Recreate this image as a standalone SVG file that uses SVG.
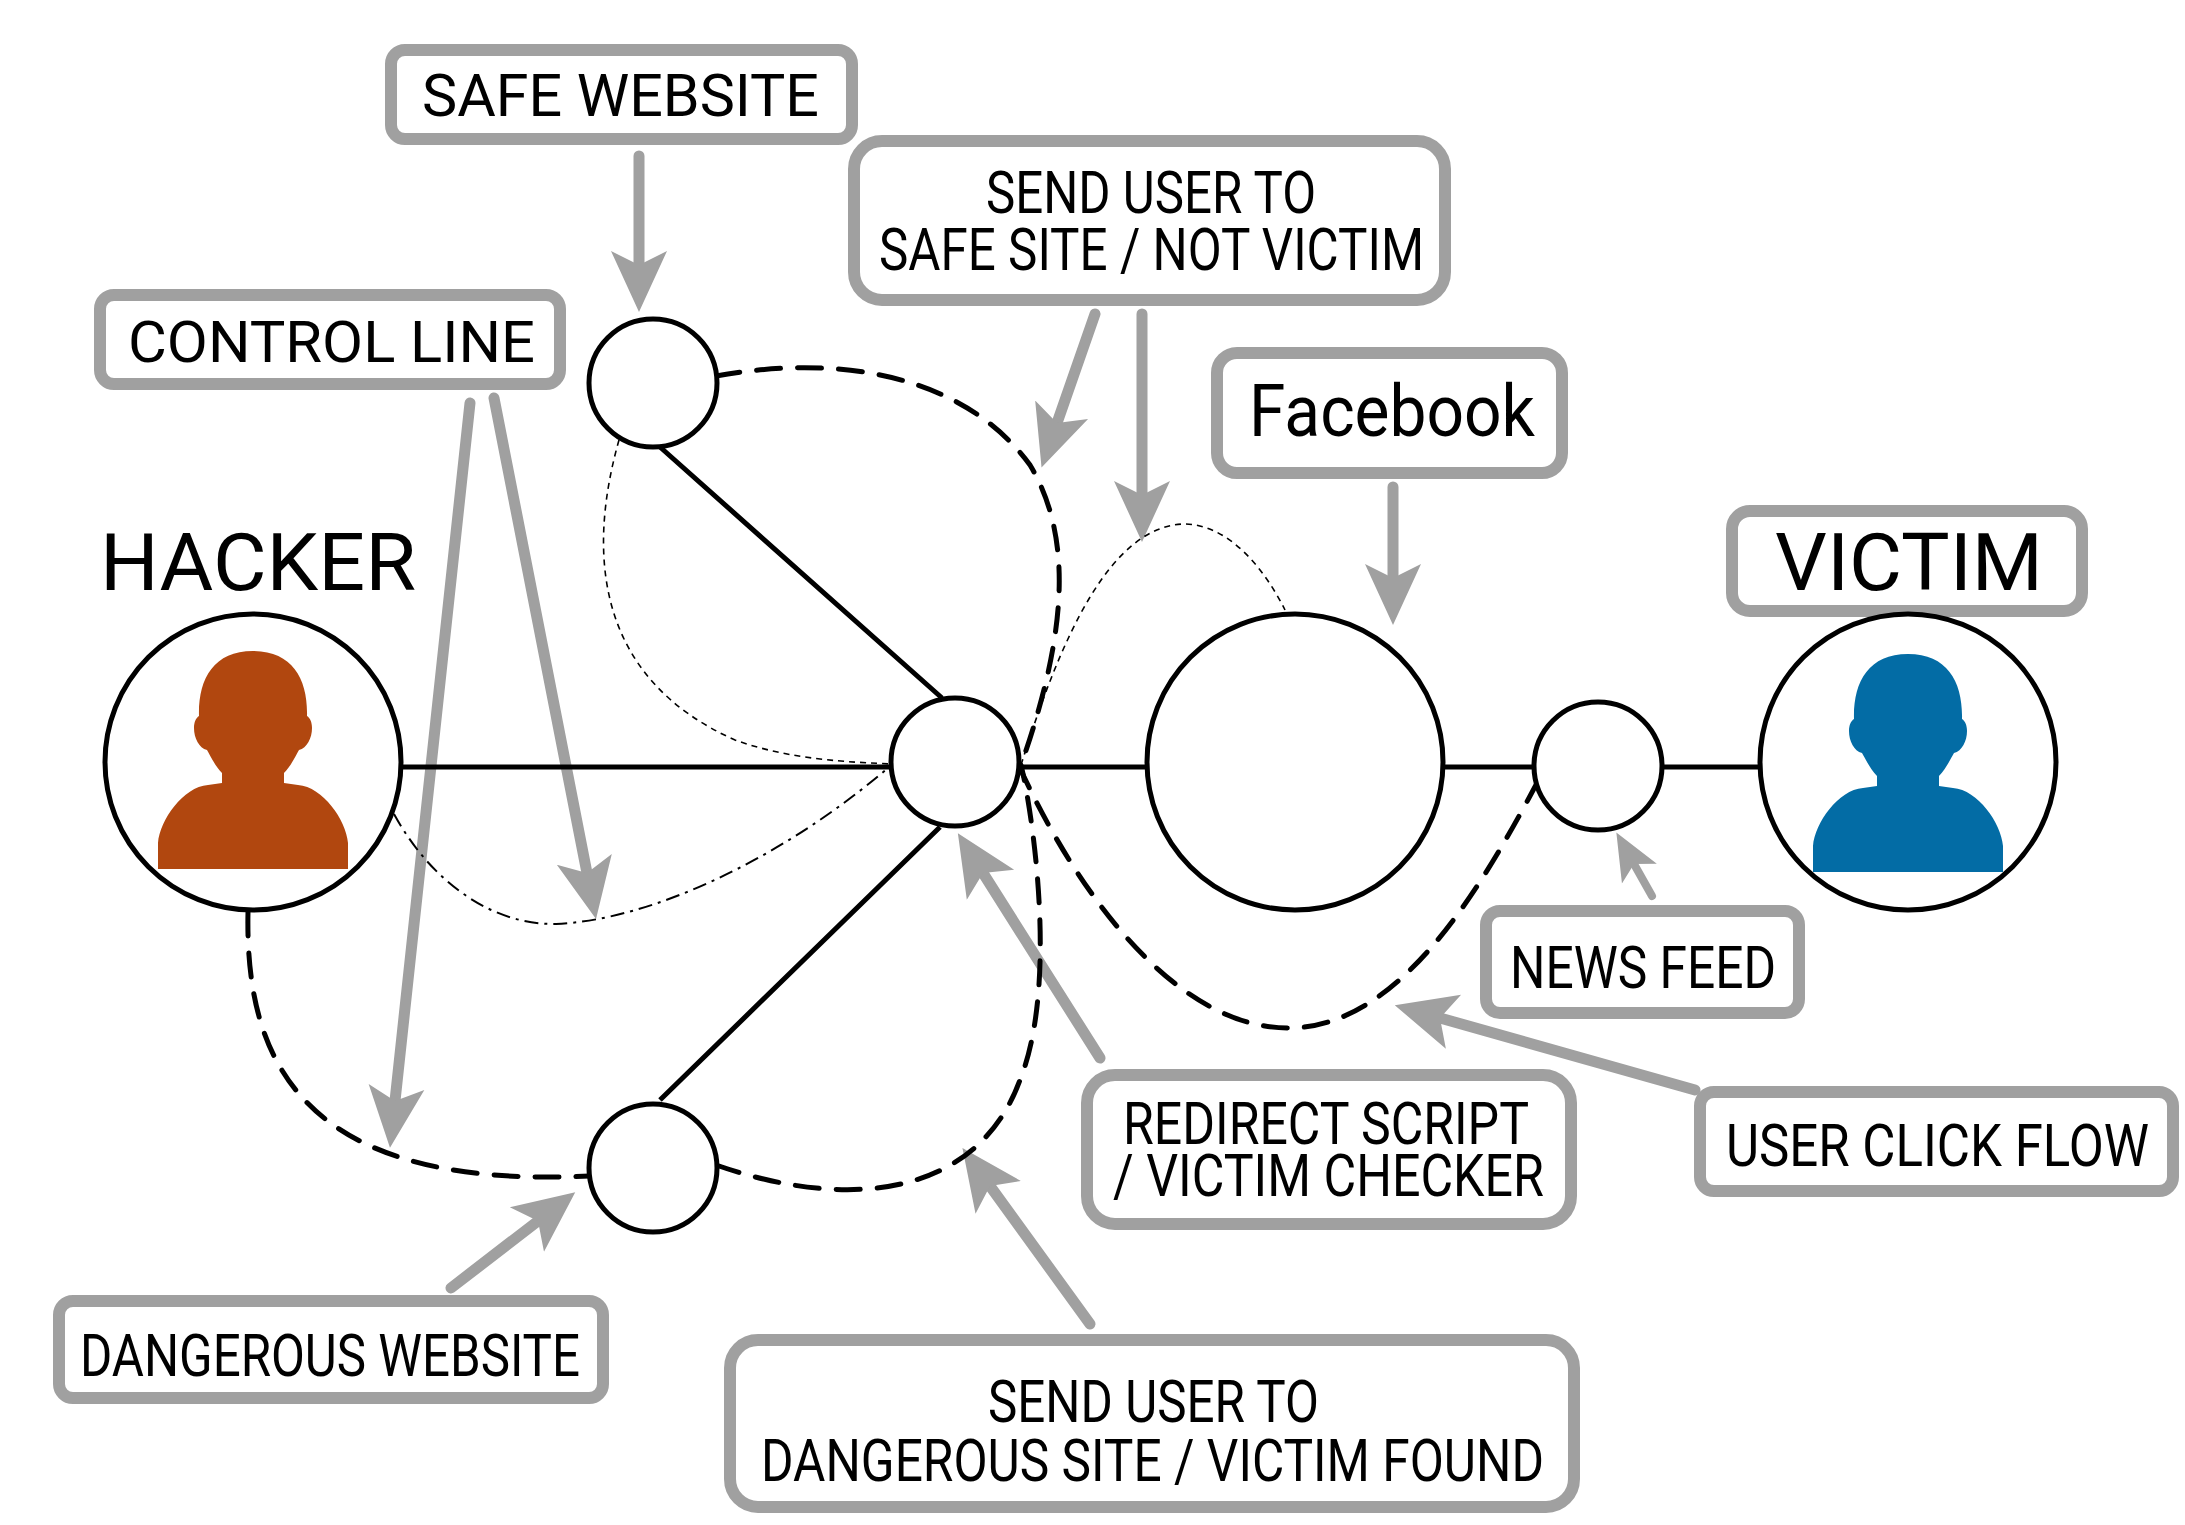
<svg xmlns="http://www.w3.org/2000/svg" width="2185" height="1525" viewBox="0 0 2185 1525">
<style>
.bg{fill:#fff}
.box{fill:#fff;stroke:#a0a0a0;stroke-width:12}
.t{font-family:Roboto,"Liberation Sans",sans-serif;fill:#000;font-size:60px}
.arrow{fill:none;stroke:#a0a0a0;stroke-width:11;stroke-linecap:round;marker-end:url(#head)}
.arrow.small{stroke-width:8;marker-end:url(#headS)}
.solid{fill:none;stroke:#000;stroke-width:5}
.dash{fill:none;stroke:#000;stroke-width:5;stroke-dasharray:24 17;stroke-linecap:round}
.dot{fill:none;stroke:#000;stroke-width:1.6;stroke-dasharray:6 5}
.dashdot{fill:none;stroke:#000;stroke-width:2;stroke-dasharray:14 6 3 6}
.node{fill:#fff;stroke:#000;stroke-width:5}
</style>
<defs>
<marker id="head" markerUnits="userSpaceOnUse" markerWidth="70" markerHeight="64" refX="14" refY="32" orient="auto"><path d="M0 4L61 32L0 60L14 32Z" fill="#a0a0a0"/></marker>
<marker id="headS" markerUnits="userSpaceOnUse" markerWidth="52" markerHeight="48" refX="11" refY="24" orient="auto"><path d="M0 4L47 24L0 44L11 24Z" fill="#a0a0a0"/></marker>
<path id="person" d="M-95 869V843C-93 820-70 787-45 785L-31 783V773C-38 766-43 755-46 750C-54 748-59 738-59 728C-59 722-57 718-54 716C-55 680-40 651 0 651C40 651 55 680 54 716C57 718 59 722 59 728C59 738 54 748 46 750C43 755 38 766 31 773V783L45 785C70 787 93 820 95 843V869Z"/>
</defs>
<rect class="bg" width="2185" height="1525"/>
<g id="label-safe-website"><rect class="box" x="391" y="50" width="461" height="89" rx="14"/><text class="t" x="422" y="116" textLength="397" lengthAdjust="spacingAndGlyphs">SAFE WEBSITE</text></g>
<g id="label-send-safe"><rect class="box" x="854" y="141" width="591" height="159" rx="28"/><text class="t" x="986" y="213" textLength="330" lengthAdjust="spacingAndGlyphs">SEND USER TO</text><text class="t" x="879" y="270" textLength="545" lengthAdjust="spacingAndGlyphs">SAFE SITE / NOT VICTIM</text></g>
<g id="label-control-line"><rect class="box" x="100" y="295" width="460" height="89" rx="14"/><text class="t" x="128" y="362" textLength="407" lengthAdjust="spacingAndGlyphs" style="font-size:58px">CONTROL LINE</text></g>
<g id="label-facebook"><rect class="box" x="1217" y="353" width="345" height="120" rx="20"/><text class="t" x="1249" y="436" textLength="286" lengthAdjust="spacingAndGlyphs" style="font-size:72px">Facebook</text></g>
<g id="label-victim"><rect class="box" x="1732" y="511" width="350" height="100" rx="18"/><text class="t" x="1775" y="590" textLength="268" lengthAdjust="spacingAndGlyphs" style="font-size:79px">VICTIM</text></g>
<g id="label-hacker"><text class="t" x="100" y="590" textLength="316" lengthAdjust="spacingAndGlyphs" style="font-size:79px">HACKER</text></g>
<g id="label-news-feed"><rect class="box" x="1486" y="911" width="313" height="102" rx="14"/><text class="t" x="1510" y="988" textLength="266" lengthAdjust="spacingAndGlyphs">NEWS FEED</text></g>
<g id="label-user-click-flow"><rect class="box" x="1700" y="1092" width="473" height="99" rx="14"/><text class="t" x="1726" y="1166" textLength="423" lengthAdjust="spacingAndGlyphs">USER CLICK FLOW</text></g>
<g id="label-redirect"><rect class="box" x="1087" y="1075" width="484" height="149" rx="28"/><text class="t" x="1123" y="1144" textLength="406" lengthAdjust="spacingAndGlyphs">REDIRECT SCRIPT</text><text class="t" x="1113" y="1196" textLength="431" lengthAdjust="spacingAndGlyphs">/ VICTIM CHECKER</text></g>
<g id="label-dangerous-website"><rect class="box" x="59" y="1301" width="544" height="97" rx="14"/><text class="t" x="80" y="1376" textLength="500" lengthAdjust="spacingAndGlyphs">DANGEROUS WEBSITE</text></g>
<g id="label-send-dangerous"><rect class="box" x="730" y="1340" width="844" height="167" rx="28"/><text class="t" x="988" y="1422" textLength="331" lengthAdjust="spacingAndGlyphs">SEND USER TO</text><text class="t" x="761" y="1481" textLength="783" lengthAdjust="spacingAndGlyphs">DANGEROUS SITE / VICTIM FOUND</text></g>
<g id="connectors">
<path class="arrow" d="M639 156V265"/>
<path class="arrow" d="M470 403L395 1101"/>
<path class="arrow" d="M494 398L587 873"/>
<path class="arrow" d="M1095 314L1057 423"/>
<path class="arrow" d="M1142 314V495"/>
<path class="arrow" d="M1393 487V578"/>
<path class="arrow small" d="M1652 896L1634 864"/>
<path class="arrow" d="M1695 1090L1440 1018"/>
<path class="arrow" d="M1100 1058L983 873"/>
<path class="arrow" d="M1090 1324L990 1186"/>
<path class="arrow" d="M451 1288L538 1221"/>
<path class="solid" d="M401 767H891M1019 767H1147M1443 767H1534M1662 767H1760"/>
<path class="solid" d="M660 447L942 698M940 827L660 1100"/>
<path class="dash" d="M248 912C245 1060 300 1190 590 1176"/>
<path class="dash" d="M716 1165C860 1215 980 1190 1020 1080C1060 980 1030 800 1021 765"/>
<path class="dash" d="M716 376C830 355 960 370 1030 465C1075 540 1065 640 1021 765"/>
<path class="dash" d="M1019 766C1080 900 1180 1030 1291 1028C1400 1026 1480 890 1537 783"/>
<path class="dot" d="M619 440C585 560 600 680 735 740C790 760 850 762 891 764"/>
<path class="dot" d="M1021 765C1060 640 1110 525 1185 524C1230 525 1265 570 1285 610"/>
<path class="dashdot" d="M394 814C430 880 490 925 556 924C650 920 780 860 888 768"/>
</g>
<g id="hacker"><circle class="node" cx="253" cy="762" r="148"/><use href="#person" x="253" fill="#b1470f"/></g>
<g id="victim"><circle class="node" cx="1908" cy="762" r="148"/><use href="#person" x="1908" y="3" fill="#036ca5"/></g>
<g id="facebook"><circle class="node" cx="1295" cy="762" r="148"/></g>
<g id="news-feed"><circle class="node" cx="1598" cy="766" r="64"/></g>
<g id="redirect"><circle class="node" cx="955" cy="762" r="64"/></g>
<g id="safe-site"><circle class="node" cx="653" cy="383" r="64"/></g>
<g id="dangerous-site"><circle class="node" cx="653" cy="1168" r="64"/></g>
</svg>
